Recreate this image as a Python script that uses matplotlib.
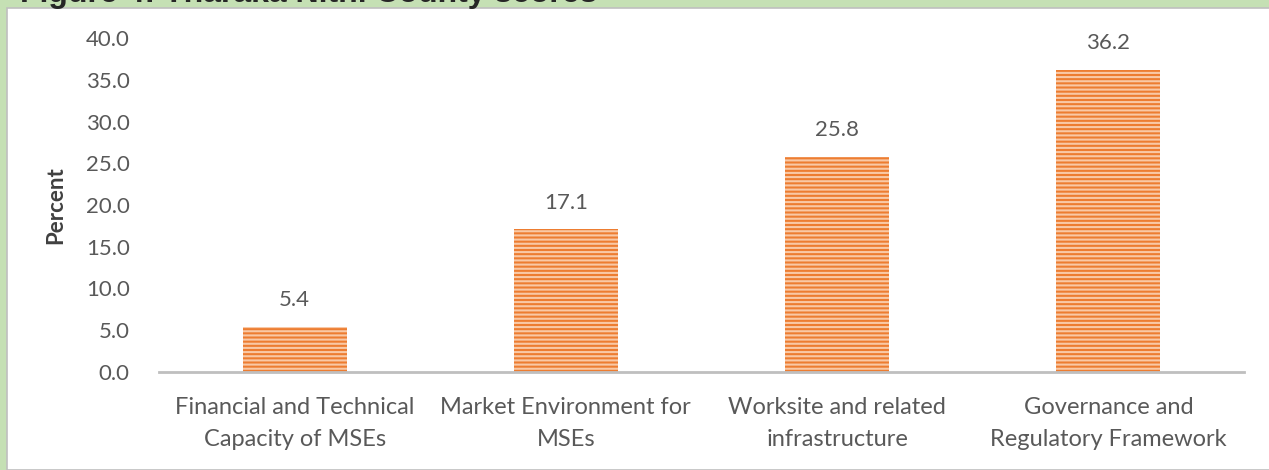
import matplotlib.pyplot as plt
from matplotlib.patches import Rectangle

# data
categories = [
    "Financial and Technical\nCapacity of MSEs",
    "Market Environment for\nMSEs",
    "Worksite and related\ninfrastructure",
    "Governance and\nRegulatory Framework",
]
scores = [5.4, 17.1, 25.8, 36.2]
y_ticks = [0, 5, 10, 15, 20, 25, 30, 35, 40]

plt.rcParams['font.family'] = ['Lato', 'DejaVu Sans']
plt.rcParams['hatch.linewidth'] = 1.5

text_gray = '#595959'
orange = '#ED7D31'

fig = plt.figure(figsize=(12.69, 4.70), dpi=100)
fig.patch.set_facecolor('#C5E0B4')

# white inner panel with thin gray edge
fig.patches.append(Rectangle((7 / 1269, 0), 1.0, 1 - 8 / 470,
                             transform=fig.transFigure, facecolor='white',
                             edgecolor='#BFBFBF', linewidth=1.2, zorder=-5))

# caption, mostly cut off at the top edge
fig.text(20 / 1269, 1 - 2 / 470, "Figure 4: Tharaka Nithi County scores",
         fontsize=23, fontweight='bold', color='#262626', va='baseline',
         ha='left', family=['Liberation Sans', 'DejaVu Sans'], zorder=-4)

ax = fig.add_axes([159 / 1269, 98 / 470, 1085 / 1269, 334 / 470])
ax.set_facecolor('none')

x = range(len(categories))
ax.bar(x, scores, width=0.384, color=orange, edgecolor='#F9C9A6',
       hatch='----', linewidth=0, zorder=2)

for xi, v in zip(x, scores):
    ax.annotate(f"{v:.1f}", (xi, v), xytext=(0, 12), textcoords='offset points',
                ha='center', va='bottom', fontsize=16, color=text_gray)

ax.set_xlim(-0.5, len(categories) - 0.5)
ax.set_ylim(0, 40)
ax.set_yticks(y_ticks)
ax.set_yticklabels([f"{t:.1f}" for t in y_ticks])
ax.set_xticks(list(x))
ax.set_xticklabels(categories, linespacing=1.65)

ax.tick_params(axis='y', length=0, pad=21, labelsize=16, labelcolor=text_gray)
ax.tick_params(axis='x', length=0, pad=18, labelsize=17, labelcolor=text_gray)

for side in ['top', 'right', 'left']:
    ax.spines[side].set_visible(False)
ax.spines['bottom'].set_color('#BFBFBF')
ax.spines['bottom'].set_linewidth(2)

ax.set_ylabel("Percent", fontsize=16, fontweight='bold', color='#404040',
              labelpad=14)

fig.savefig('out.png', dpi=100, facecolor=fig.get_facecolor())
